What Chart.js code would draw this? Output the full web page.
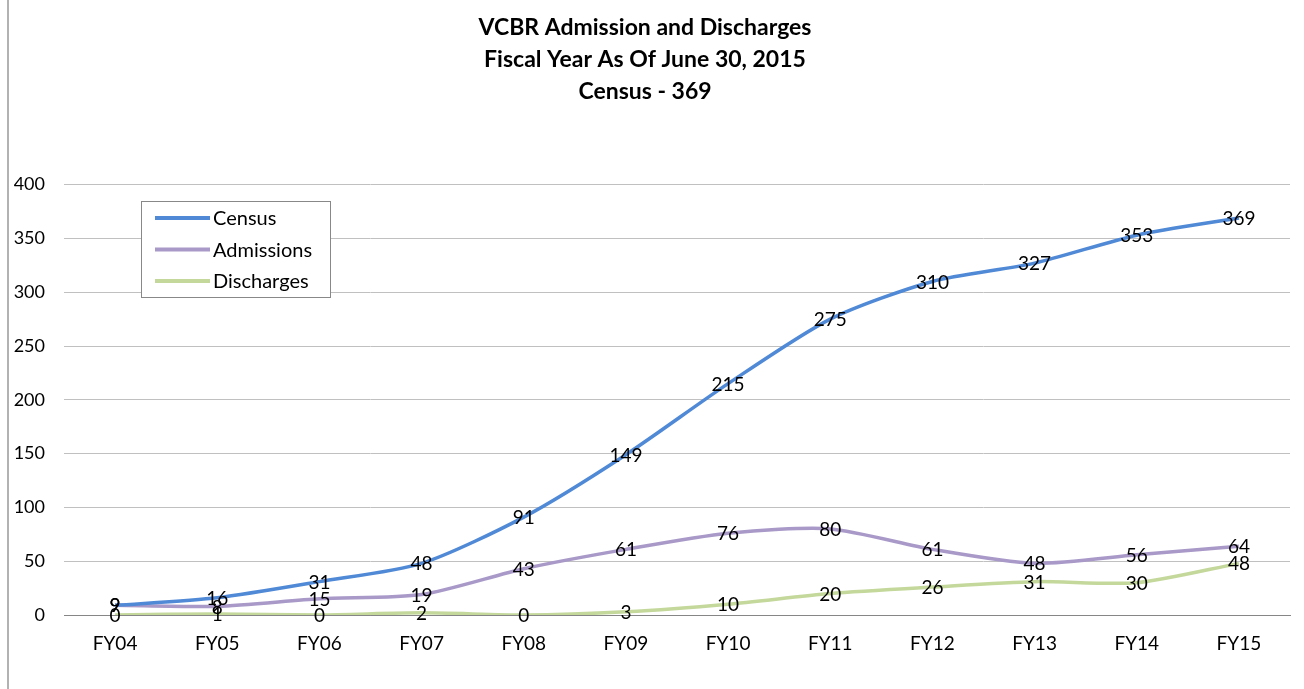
<!DOCTYPE html>
<html lang="en">
<head>
  <meta charset="UTF-8" />
  <title>VCBR Admission and Discharges</title>
  <script src="https://cdn.jsdelivr.net/npm/chart.js"></script>
  <style>
    body { margin: 0; background: #fff; }
    #wrap { position: relative; width: 1304px; height: 689px; }
  </style>
</head>
<body>
  <div id="wrap"><canvas id="chart" width="1304" height="689"></canvas></div>

  <script>
    const years = ['FY04', 'FY05', 'FY06', 'FY07', 'FY08', 'FY09', 'FY10', 'FY11', 'FY12', 'FY13', 'FY14', 'FY15'];
    const census = [9, 16, 31, 48, 91, 149, 215, 275, 310, 327, 353, 369];
    const admissions = [9, 8, 15, 19, 43, 61, 76, 80, 61, 48, 56, 64];
    const discharges = [0, 1, 0, 2, 0, 3, 10, 20, 26, 31, 30, 48];
    const titleLines = ['VCBR Admission and Discharges', 'Fiscal Year As Of June 30, 2015', 'Census - 369'];

    const FONT = 'Lato, "Open Sans", sans-serif';

    // value labels centred on each point, legend box and outer frame
    const extras = {
      id: 'extras',
      afterDatasetsDraw(chart) {
        const ctx = chart.ctx;
        ctx.save();
        ctx.font = '19px ' + FONT;
        ctx.fillStyle = '#000';
        ctx.textAlign = 'center';
        ctx.textBaseline = 'middle';
        chart.data.datasets.forEach((ds, i) => {
          chart.getDatasetMeta(i).data.forEach((pt, j) => {
            ctx.fillText(String(ds.data[j]), pt.x, pt.y + 1);
          });
        });

        // legend
        const lx = 141.5, ly = 201.5;
        ctx.fillStyle = '#fff';
        ctx.fillRect(lx, ly, 189, 96);
        ctx.strokeStyle = '#888';
        ctx.lineWidth = 1;
        ctx.strokeRect(lx, ly, 189, 96);
        ctx.textAlign = 'left';
        ctx.font = '20px ' + FONT;
        chart.data.datasets.forEach((ds, i) => {
          const y = 218 + i * 31.5;
          ctx.strokeStyle = ds.borderColor;
          ctx.lineWidth = 4;
          ctx.beginPath();
          ctx.moveTo(155, y);
          ctx.lineTo(210, y);
          ctx.stroke();
          ctx.fillStyle = '#000';
          ctx.fillText(ds.label, 213, y + 1);
        });

        // outer frame edge
        ctx.strokeStyle = '#999';
        ctx.lineWidth = 1.5;
        ctx.beginPath();
        ctx.moveTo(8, 0);
        ctx.lineTo(8, 689);
        ctx.stroke();
        ctx.restore();
      }
    };

    const ds = (label, data, color) => ({
      label, data,
      borderColor: color,
      backgroundColor: color,
      borderWidth: 3.5,
      pointRadius: 0,
      tension: 0.25,
      fill: false
    });

    new Chart(document.getElementById('chart').getContext('2d'), {
      type: 'line',
      data: {
        labels: years,
        datasets: [
          ds('Census', census, '#5089d6'),
          ds('Admissions', admissions, '#a899c8'),
          ds('Discharges', discharges, '#c4d89c')
        ]
      },
      options: {
        responsive: false,
        animation: false,
        layout: { padding: { left: 0, right: 14, top: 0, bottom: 34 } },
        plugins: {
          legend: { display: false },
          tooltip: { enabled: false },
          title: {
            display: true,
            text: titleLines,
            color: '#000',
            font: { family: FONT, size: 23, weight: 'bold', lineHeight: 1.4 },
            padding: { top: 11, bottom: 77 }
          }
        },
        scales: {
          x: {
            offset: true,
            afterFit: s => { s.height = 40; },
            grid: { display: false, drawTicks: false },
            border: { display: true, color: '#868686', width: 1 },
            ticks: { color: '#000', padding: 17, font: { family: FONT, size: 19 } }
          },
          y: {
            min: 0,
            max: 400,
            afterFit: s => { s.width = 64; },
            grid: {
              drawTicks: false,
              color: c => c.tick && c.tick.value === 0 ? '#868686' : '#c0c0c0'
            },
            border: { display: false },
            ticks: { stepSize: 50, color: '#000', padding: 19, font: { family: FONT, size: 18 } }
          }
        }
      },
      plugins: [extras]
    });
  </script>
</body>
</html>
